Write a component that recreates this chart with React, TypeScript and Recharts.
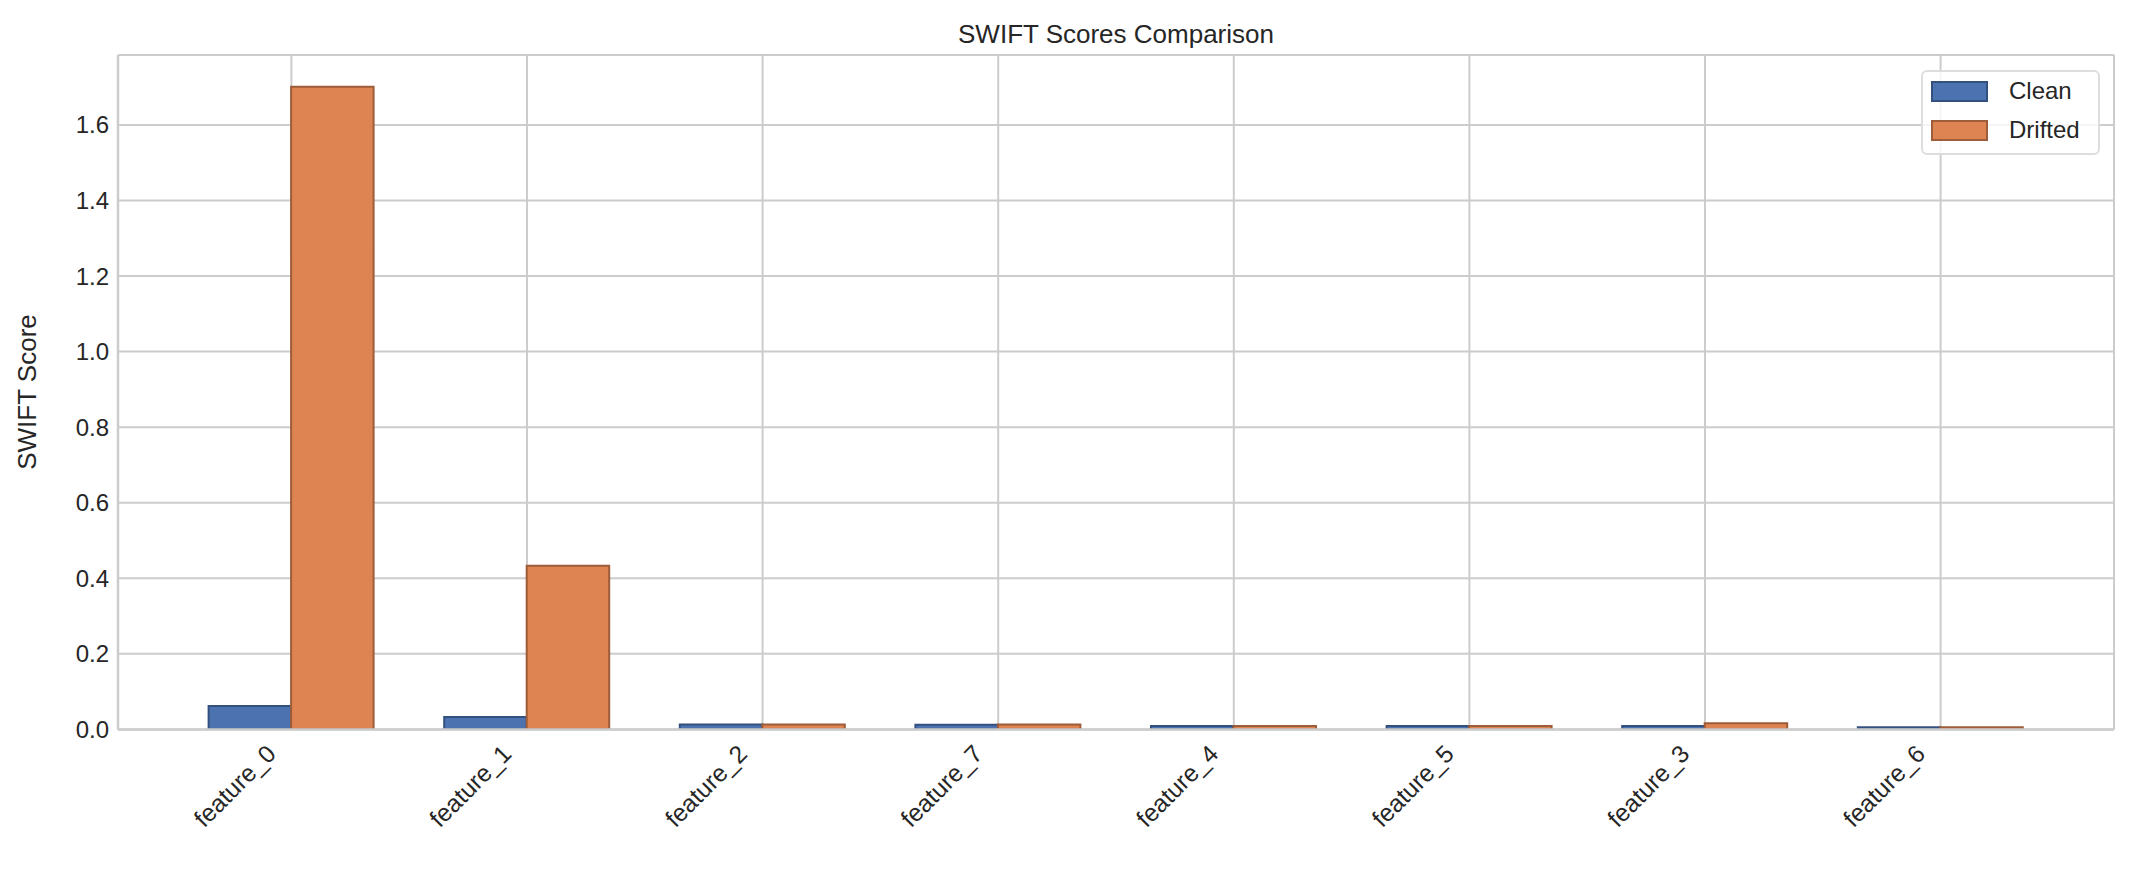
import React from 'react'
import { BarChart, Bar, XAxis, YAxis, CartesianGrid, Legend } from 'recharts'

const features = ['feature_0', 'feature_1', 'feature_2', 'feature_7', 'feature_4', 'feature_5', 'feature_3', 'feature_6']
const cleanScores = [0.062, 0.033, 0.013, 0.012, 0.009, 0.009, 0.009, 0.006]
const driftedScores = [1.701, 0.433, 0.013, 0.013, 0.009, 0.009, 0.016, 0.006]
const yTicks = [0, 0.2, 0.4, 0.6, 0.8, 1.0, 1.2, 1.4, 1.6]

const FONT = '"Liberation Sans", Arial, sans-serif'
const TEXT = '#262626'
const GRID = '#cccccc'

const series = [
  { key: 'clean', name: 'Clean', fill: '#4c72b0', stroke: '#34507f' },
  { key: 'drifted', name: 'Drifted', fill: '#dd8452', stroke: '#9e5c38' },
]

const data = features.map((f, i) => ({
  feature: f,
  clean: cleanScores[i],
  drifted: driftedScores[i],
}))

// rotated x labels, right end pinned under the tick like matplotlib ha='right'
const FeatureTick = ({ x, y, payload }: any) => (
  <g transform={`translate(${x},${y})`}>
    <text
      x={-14}
      y={26}
      transform="rotate(-45, -14, 26)"
      textAnchor="end"
      fill={TEXT}
      fontSize={24.5}
      fontFamily={FONT}
    >
      {payload.value}
    </text>
  </g>
)

const LegendBox = () => (
  <div
    style={{
      border: '2px solid #dddddd',
      borderRadius: 6,
      background: 'rgba(255,255,255,0.8)',
      padding: '4px 10px 8px 8px',
      fontFamily: FONT,
      fontSize: 24,
      color: TEXT,
      boxSizing: 'border-box',
    }}
  >
    {series.map((s, i) => (
      <div key={s.key} style={{ display: 'flex', alignItems: 'center', height: 30, marginTop: i === 0 ? 0 : 9 }}>
        <span
          style={{
            display: 'inline-block',
            width: 57,
            height: 21,
            background: s.fill,
            border: `2px solid ${s.stroke}`,
            boxSizing: 'border-box',
            marginRight: 21,
          }}
        />
        {s.name}
      </div>
    ))}
  </div>
)

export default function App() {
  return (
    <div style={{ position: 'relative', width: 2131, height: 872, background: '#fff' }}>
      <style>{'body{margin:0}'}</style>
      <div
        style={{
          position: 'absolute',
          left: 118,
          width: 1996,
          top: 18,
          textAlign: 'center',
          fontFamily: FONT,
          fontSize: 26,
          color: TEXT,
          lineHeight: '32px',
        }}
      >
        SWIFT Scores Comparison
      </div>
      <BarChart
        width={2131}
        height={872}
        data={data}
        margin={{ top: 55, right: 17, bottom: 0, left: 0 }}
        barGap={0}
        barSize={82.5}
      >
        <CartesianGrid stroke={GRID} strokeWidth={2} horizontal vertical />
        <XAxis
          dataKey="feature"
          height={142.6}
          padding={{ left: 55.6, right: 55.6 }}
          tickLine={false}
          tickSize={0}
          tickMargin={0}
          axisLine={{ stroke: GRID, strokeWidth: 2.5 }}
          tick={<FeatureTick />}
          interval={0}
        />
        <XAxis
          xAxisId="top"
          dataKey="feature"
          orientation="top"
          height={0}
          tick={false}
          tickLine={false}
          axisLine={{ stroke: GRID, strokeWidth: 2.5 }}
        />
        <YAxis
          domain={[0, 1.785]}
          ticks={yTicks}
          width={118}
          tickLine={false}
          tickSize={0}
          tickMargin={9}
          tickFormatter={(v: number) => v.toFixed(1)}
          tick={{ fill: TEXT, fontSize: 24, fontFamily: FONT }}
          axisLine={{ stroke: GRID, strokeWidth: 2.5 }}
          allowDataOverflow
          label={{
            content: () => (
              <text
                x={27}
                y={392}
                transform="rotate(-90, 27, 392)"
                textAnchor="middle"
                dominantBaseline="central"
                fill={TEXT}
                fontSize={26}
                fontFamily={FONT}
              >
                SWIFT Score
              </text>
            ),
          }}
        />
        <YAxis
          yAxisId="right"
          orientation="right"
          width={0}
          tick={false}
          tickLine={false}
          axisLine={{ stroke: GRID, strokeWidth: 2.5 }}
        />
        <Legend
          layout="vertical"
          align="center"
          verticalAlign="middle"
          content={<LegendBox />}
          wrapperStyle={{ left: 1921, top: 70, width: 179, height: 'auto' }}
        />
        {series.map((s) => (
          <Bar
            key={s.key}
            dataKey={s.key}
            name={s.name}
            fill={s.fill}
            stroke={s.stroke}
            strokeWidth={2}
            isAnimationActive={false}
          />
        ))}
      </BarChart>
    </div>
  )
}
